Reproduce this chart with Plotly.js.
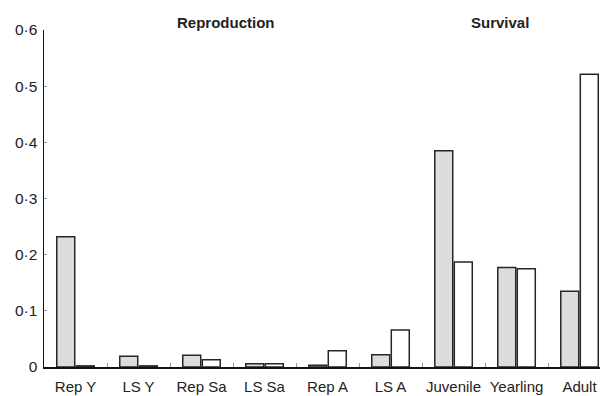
<!DOCTYPE html>
<html>
<head>
<meta charset="utf-8">
<script src="https://cdn.plot.ly/plotly-3.0.1.min.js"></script>
<style>html,body{margin:0;padding:0;background:#fff;overflow:hidden}</style>
</head>
<body>
<div id="chart" style="width:600px;height:396px"></div>
<script>
const categories = ["Rep Y", "LS Y", "Rep Sa", "LS Sa", "Rep A", "LS A", "Juvenile", "Yearling", "Adult"];
const seriesGrey = [0.232, 0.019, 0.021, 0.006, 0.003, 0.022, 0.385, 0.177, 0.135];
const seriesWhite = [0.002, 0.002, 0.013, 0.006, 0.029, 0.066, 0.187, 0.175, 0.521];
const yTickVals = [0, 0.1, 0.2, 0.3, 0.4, 0.5, 0.6];
const yTickText = ["0", "0·1", "0·2", "0·3", "0·4", "0·5", "0·6"];
const groupTitles = ["Reproduction", "Survival"];

const font = "Liberation Sans, Arial, sans-serif";
const barLine = {color: "#262626", width: 1.5};

const data = [
  {type: "bar", x: categories, y: seriesGrey, marker: {color: "#dcdddf", line: barLine}, hoverinfo: "none"},
  {type: "bar", x: categories, y: seriesWhite, marker: {color: "#ffffff", line: barLine}, hoverinfo: "none"}
];

const layout = {
  width: 600, height: 396,
  margin: {l: 44, r: 0, t: 30, b: 29, pad: 0},
  paper_bgcolor: "#fff", plot_bgcolor: "#fff",
  showlegend: false,
  barmode: "group",
  bargap: 0.38,
  bargroupgap: 0.08,
  font: {family: font, size: 15, color: "#222"},
  xaxis: {
    type: "category",
    range: [-0.5, 8.325],
    showline: true, linecolor: "#111", linewidth: 1.5,
    ticks: "inside", tickson: "boundaries", ticklen: 4, tickcolor: "#999", tickwidth: 1,
    tickangle: 0, automargin: false, ticklabelstandoff: 5,
    showgrid: false, zeroline: false,
    tickfont: {family: font, size: 15, color: "#222"}
  },
  yaxis: {
    range: [0, 0.6],
    tickvals: yTickVals, ticktext: yTickText,
    showline: true, linecolor: "#111", linewidth: 1.5,
    ticks: "inside", ticklen: 3, tickcolor: "#999", tickwidth: 1,
    ticklabelstandoff: 2,
    showgrid: false, zeroline: false,
    tickfont: {family: font, size: 15.5, color: "#222"}
  },
  annotations: [
    {text: "<b>" + groupTitles[0] + "</b>", xref: "paper", yref: "paper", x: 0.327, y: 1.022, xanchor: "center", yanchor: "middle", showarrow: false, font: {family: font, size: 15, color: "#222"}},
    {text: "<b>" + groupTitles[1] + "</b>", xref: "paper", yref: "paper", x: 0.82, y: 1.022, xanchor: "center", yanchor: "middle", showarrow: false, font: {family: font, size: 15, color: "#222"}}
  ]
};

Plotly.newPlot("chart", data, layout, {staticPlot: true, displayModeBar: false});
</script>
</body>
</html>
